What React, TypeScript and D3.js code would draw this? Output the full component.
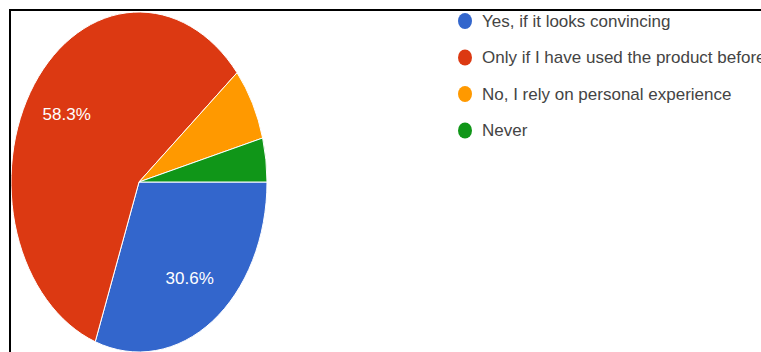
import React from "react";
import * as d3 from "d3";

const categories: string[] = [
  "Yes, if it looks convincing",
  "Only if I have used the product before",
  "No, I rely on personal experience",
  "Never",
];
const counts: number[] = [22, 42, 5, 3];
const colors: string[] = ["#3366cc", "#dc3912", "#ff9900", "#109618"];
const shownLabels: boolean[] = [true, true, false, false];

const W = 761;
const H = 352;
const cx = 139;
const cy = 182;
const ry = 170;
const rx = 128;
const sx = rx / ry;

export default function App() {
  const total = d3.sum(counts);
  const pie = d3
    .pie<number>()
    .sort(null)
    .startAngle(Math.PI / 2)
    .endAngle(Math.PI / 2 + 2 * Math.PI)
    .value((d) => d);
  const arcs = pie(counts);
  const arc = d3.arc<d3.PieArcDatum<number>>().innerRadius(0).outerRadius(ry);
  const labelArc = d3
    .arc<d3.PieArcDatum<number>>()
    .innerRadius(ry * 0.69)
    .outerRadius(ry * 0.69);
  const fmt = d3.format(".1%");
  const legendY = d3.scaleLinear().domain([0, 1]).range([21, 57.5]);

  return (
    <svg
      width={W}
      height={H}
      style={{ position: "absolute", left: 0, top: 0, background: "#fff" }}
      fontFamily="'Liberation Sans', Arial, sans-serif"
    >
      <rect x={0} y={0} width={W} height={H} fill="#fff" />
      <g transform={`translate(${cx},${cy}) scale(${sx},1)`}>
        {arcs.map((a, i) => (
          <path
            key={i}
            d={arc(a) || ""}
            fill={colors[i]}
            stroke="#fff"
            strokeWidth={1}
            vectorEffect="non-scaling-stroke"
          />
        ))}
      </g>
      {arcs.map((a, i) => {
        if (!shownLabels[i]) return null;
        const [lx, ly] = labelArc.centroid(a);
        return (
          <text
            key={i}
            x={cx + lx * sx}
            y={cy + ly}
            fill="#fff"
            fontSize={17}
            textAnchor="middle"
            dominantBaseline="central"
          >
            {fmt(counts[i] / total)}
          </text>
        );
      })}
      {categories.map((c, i) => (
        <g key={c}>
          <ellipse cx={465} cy={legendY(i)} rx={7} ry={8} fill={colors[i]} />
          <text
            x={482}
            y={legendY(i)}
            fill="#444"
            fontSize={17}
            dominantBaseline="central"
          >
            {c}
          </text>
        </g>
      ))}
      <path d={`M10,${H + 5} V10 H${W + 5}`} fill="none" stroke="#000" strokeWidth={2} />
    </svg>
  );
}
